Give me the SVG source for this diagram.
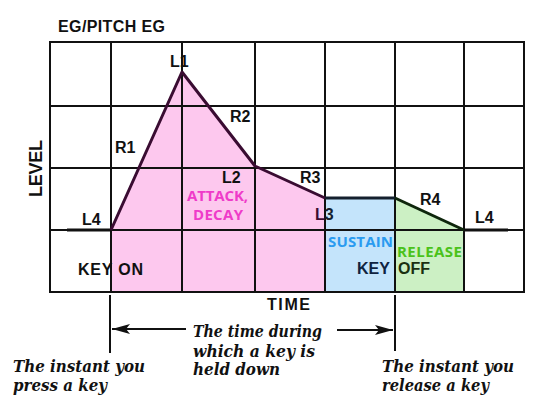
<svg xmlns="http://www.w3.org/2000/svg" width="547" height="419" viewBox="0 0 547 419">
<style>
.bg{fill:#fff}
.grid{stroke:#111;stroke-width:2;fill:none}
.env{fill:none;stroke-width:3;stroke-linejoin:round}
.lbl{font-family:"Liberation Sans",Arial,sans-serif;font-weight:bold;font-size:16px;fill:#111}
.ph{font-family:"Open Sans","Noto Sans",sans-serif;font-weight:700;font-size:15px}
.it{font-family:"DejaVu Serif","Liberation Serif",serif;font-style:italic;font-weight:bold;font-size:16px;fill:#111}
.conn{stroke:#111;stroke-width:2;fill:none}
</style>
<defs>
<marker id="ah" viewBox="0 0 18 10" refX="18" refY="5" markerWidth="18" markerHeight="10" markerUnits="userSpaceOnUse" orient="auto">
<path d="M0,0 L18,5 L0,10 L4,5 Z" fill="#111"/>
</marker>
</defs>
<rect class="bg" x="0" y="0" width="547" height="419"/>

<g id="fills">
<polygon points="111,230 182,72 255,166 325,198 325,292 111,292" fill="#fdc8ee"/>
<polygon points="325,198 395,198 395,292 325,292" fill="#c4e4fb"/>
<polygon points="395,198 464,230 464,292 395,292" fill="#ccf0c4"/>
</g>

<g id="grid" class="grid">
<rect x="50" y="42" width="474" height="250"/>
<line x1="111" y1="42" x2="111" y2="292"/>
<line x1="182" y1="42" x2="182" y2="292"/>
<line x1="255" y1="42" x2="255" y2="292"/>
<line x1="325" y1="42" x2="325" y2="292"/>
<line x1="395" y1="42" x2="395" y2="292"/>
<line x1="464" y1="42" x2="464" y2="292"/>
<line x1="50" y1="106" x2="524" y2="106"/>
<line x1="50" y1="168" x2="524" y2="168"/>
<line x1="50" y1="230" x2="524" y2="230"/>
</g>

<g id="envelope">
<polyline class="env" stroke="#111" points="67,230 111,230"/>
<polyline class="env" stroke="#3a0c32" points="111,230 182,72 255,166 325,198"/>
<polyline class="env" stroke="#14202e" points="325,198 395,198"/>
<polyline class="env" stroke="#0e260c" points="395,198 464,230"/>
<polyline class="env" stroke="#111" points="464,230 508,230"/>
</g>

<g id="title"><text class="lbl" x="58" y="32" textLength="107">EG/PITCH EG</text></g>
<g id="level"><text class="lbl" style="font-size:18px" transform="translate(42,197) rotate(-90)" textLength="57">LEVEL</text></g>
<g id="time"><text class="lbl" x="267" y="310" textLength="43">TIME</text></g>

<g id="L1"><text class="lbl" x="170" y="67">L1</text></g>
<g id="R1"><text class="lbl" x="115" y="153">R1</text></g>
<g id="R2"><text class="lbl" x="230" y="122">R2</text></g>
<g id="L2"><text class="lbl" x="222" y="183">L2</text></g>
<g id="R3"><text class="lbl" x="300" y="183">R3</text></g>
<g id="L3"><text class="lbl" x="315" y="220"><tspan fill="#3a0c32">L</tspan><tspan fill="#14202e">3</tspan></text></g>
<g id="R4"><text class="lbl" x="420" y="205">R4</text></g>
<g id="L4a"><text class="lbl" x="82" y="225">L4</text></g>
<g id="L4b"><text class="lbl" x="475" y="223">L4</text></g>

<g id="attack"><text class="ph" fill="#ef3bc9" x="187" y="201" textLength="61">ATTACK,</text><text class="ph" fill="#ef3bc9" x="193" y="220" textLength="50">DECAY</text></g>
<g id="sustain"><text class="ph" fill="#2a9bf0" x="328" y="247" textLength="65">SUSTAIN</text></g>
<g id="release"><text class="ph" fill="#4ac21a" x="397" y="257" textLength="65">RELEASE</text></g>
<g id="keyon"><text class="lbl" x="78" y="275" textLength="65">KEY ON</text></g>
<g id="keyoff"><text class="lbl" x="357" y="274"><tspan fill="#0f2340">KEY</tspan><tspan x="398" fill="#1a3010">OFF</tspan></text></g>

<g id="connectors">
<line class="conn" x1="110" y1="295" x2="110" y2="353"/>
<line class="conn" x1="395" y1="295" x2="395" y2="351"/>
<line class="conn" x1="186" y1="329" x2="112" y2="329" marker-end="url(#ah)"/>
<line class="conn" x1="337" y1="330" x2="393" y2="330" marker-end="url(#ah)"/>
</g>

<g id="held"><text class="it" x="193" y="337" textLength="129" lengthAdjust="spacingAndGlyphs">The time during</text><text class="it" x="193" y="357" textLength="122" lengthAdjust="spacingAndGlyphs">which a key is</text><text class="it" x="193" y="375" textLength="87" lengthAdjust="spacingAndGlyphs">held down</text></g>
<g id="press"><text class="it" x="13" y="372" textLength="132" lengthAdjust="spacingAndGlyphs">The instant you</text><text class="it" x="13" y="391" textLength="94" lengthAdjust="spacingAndGlyphs">press a key</text></g>
<g id="release-note"><text class="it" x="382" y="372" textLength="132" lengthAdjust="spacingAndGlyphs">The instant you</text><text class="it" x="382" y="391" textLength="107" lengthAdjust="spacingAndGlyphs">release a key</text></g>
</svg>
